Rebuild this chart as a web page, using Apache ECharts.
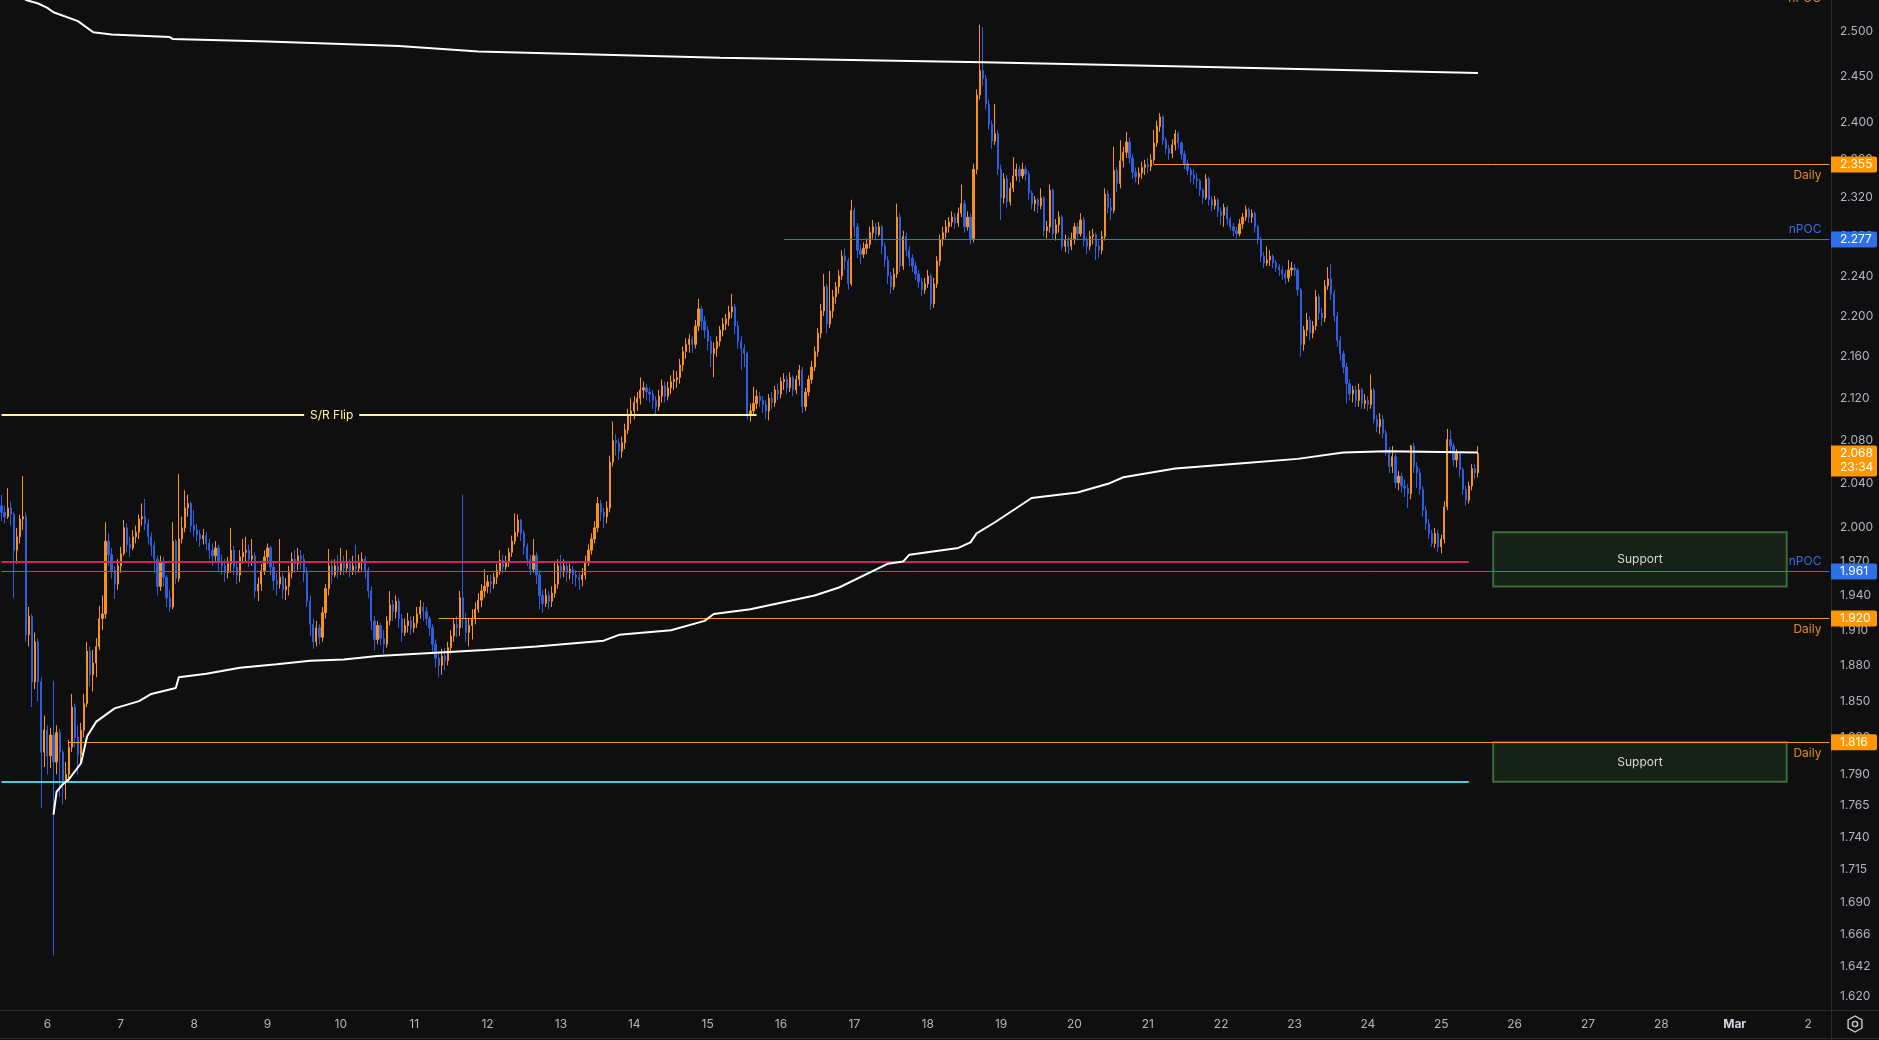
<!DOCTYPE html>
<html><head><meta charset="utf-8">
<script src="https://cdn.jsdelivr.net/npm/echarts@6/dist/echarts.min.js"></script>
<style>html,body{margin:0;padding:0;background:#0f0f0f;overflow:hidden}#main{width:1879px;height:1040px}</style>
</head><body><div id="main"></div>
<script>
// ---------- data (prices in thousandths for compactness) ----------
const dayLabels = ['6','7','8','9','10','11','12','13','14','15','16','17','18','19','20','21','22','23','24','25','26','27','28','Mar','2'];
const yTicks = [2.500,2.450,2.400,2.360,2.320,2.280,2.240,2.200,2.160,2.120,2.080,2.040,2.000,1.970,1.940,1.910,1.880,1.850,1.820,1.790,1.765,1.740,1.715,1.690,1.666,1.642,1.620];
const firstOpen = 2020;
const closes = [
2014,2010,2018,2012,1980,1992,2008,2010,1906,1922,1866,1900,
1866,1808,1826,1805,1822,1800,1824,1808,1785,1790,1812,1845,
1820,1806,1826,1848,1892,1872,1882,1896,1920,1924,1988,1976,
1962,1950,1966,1977,2000,1985,1982,1992,1996,2008,2010,2004,
1992,1984,1972,1948,1970,1956,1938,1930,1988,1955,1990,2000,
2018,2022,2002,1998,1994,1990,1993,1986,1980,1975,1982,1970,
1966,1960,1968,1980,1965,1958,1974,1978,1980,1972,1975,1944,
1950,1962,1974,1982,1965,1953,1950,1956,1945,1948,1960,1972,
1968,1975,1972,1960,1935,1915,1900,1912,1904,1925,1946,1966,
1958,1966,1962,1968,1964,1968,1962,1966,1964,1969,1972,1962,
1944,1918,1902,1914,1903,1898,1918,1932,1926,1935,1920,1908,
1914,1918,1912,1916,1924,1930,1926,1920,1912,1898,1886,1880,
1888,1884,1895,1905,1915,1912,1938,1920,1908,1914,1920,1928,
1936,1944,1948,1952,1950,1956,1962,1971,1965,1970,1978,1988,
1996,2007,1995,1983,1972,1963,1975,1958,1940,1933,1940,1935,
1942,1950,1966,1962,1966,1960,1963,1958,1956,1954,1958,1970,
1980,1990,2000,2022,2014,2010,2018,2060,2080,2078,2070,2078,
2090,2104,2108,2116,2120,2128,2130,2126,2124,2118,2112,2122,
2132,2122,2130,2136,2138,2140,2152,2165,2172,2177,2172,2190,
2207,2195,2186,2175,2163,2168,2175,2186,2192,2197,2204,2209,
2190,2175,2168,2163,2105,2108,2115,2122,2118,2114,2108,2120,
2116,2128,2124,2136,2138,2130,2140,2128,2138,2147,2112,2126,
2138,2150,2165,2183,2205,2229,2192,2205,2219,2229,2240,2260,
2255,2232,2307,2290,2266,2262,2268,2272,2284,2290,2282,2290,
2270,2256,2240,2229,2242,2300,2250,2280,2266,2258,2250,2242,
2234,2226,2232,2240,2212,2232,2255,2277,2284,2290,2295,2300,
2294,2304,2314,2290,2300,2278,2350,2430,2457,2448,2420,2398,
2380,2388,2350,2320,2340,2316,2330,2343,2350,2343,2350,2345,
2325,2314,2318,2312,2320,2286,2290,2328,2283,2292,2300,2270,
2276,2270,2278,2290,2283,2297,2276,2270,2280,2282,2270,2266,
2280,2324,2310,2307,2349,2335,2359,2368,2379,2362,2347,2342,
2346,2352,2355,2353,2360,2378,2396,2406,2381,2372,2367,2376,
2388,2378,2366,2356,2349,2344,2340,2338,2328,2320,2340,2318,
2312,2318,2306,2302,2310,2298,2290,2286,2283,2293,2300,2308,
2300,2304,2290,2277,2260,2253,2256,2260,2253,2249,2246,2242,
2238,2246,2248,2246,2226,2172,2186,2196,2183,2190,2219,2203,
2198,2230,2237,2222,2200,2176,2163,2150,2134,2124,2128,2118,
2128,2115,2118,2114,2128,2100,2093,2100,2087,2071,2056,2065,
2041,2047,2038,2036,2031,2075,2056,2050,2035,2016,2004,1995,
1986,1995,1983,1990,2019,2081,2075,2062,2068,2053,2035,2025,
2038,2054,2050,2068];
const highs = [
2030,2020,2036,2024,2014,2000,2012,2047,2014,1930,1924,1908,
1903,1870,1838,1830,1828,1867,1830,1827,1810,1800,1818,1856,
1848,1830,1832,1856,1900,1896,1893,1903,1931,1940,2005,1995,
1982,1966,1972,1983,2007,2004,1992,1998,2002,2012,2022,2026,
2008,1996,1988,1975,1975,1974,1958,1945,2005,1990,2049,2010,
2034,2030,2024,2016,2004,1998,1999,1996,1990,1986,1988,1985,
1976,1972,1974,2000,1984,1970,1980,1990,1992,1985,1990,1978,
1956,1968,1980,1986,1984,1970,1960,1990,1960,1955,1966,1978,
1980,1982,1980,1976,1965,1940,1920,1918,1915,1930,1950,1981,
1972,1972,1976,1982,1975,1980,1972,1975,1985,1976,1978,1975,
1965,1948,1922,1918,1916,1910,1922,1944,1936,1940,1938,1924,
1920,1925,1922,1922,1930,1936,1934,1930,1922,1915,1902,1890,
1894,1895,1900,1910,1920,1922,1944,2030,1925,1920,1928,1934,
1942,1950,1963,1958,1958,1960,1968,1980,1976,1975,1982,1993,
2013,2012,2008,1998,1986,1976,1990,1978,1962,1945,1946,1944,
1948,1970,1972,1976,1972,1970,1968,1966,1962,1960,1964,1975,
1985,1995,2006,2028,2025,2018,2024,2066,2098,2086,2082,2084,
2096,2110,2120,2122,2126,2140,2136,2134,2130,2128,2122,2128,
2138,2136,2136,2142,2147,2146,2158,2170,2178,2182,2180,2196,
2217,2210,2200,2190,2180,2174,2180,2190,2198,2202,2210,2222,
2212,2195,2180,2172,2165,2115,2131,2128,2126,2122,2118,2124,
2126,2132,2134,2140,2144,2142,2145,2142,2142,2152,2150,2130,
2142,2156,2170,2188,2212,2242,2232,2245,2226,2234,2246,2266,
2268,2258,2318,2310,2294,2272,2274,2278,2290,2297,2294,2295,
2292,2274,2260,2244,2248,2314,2304,2286,2284,2270,2262,2254,
2246,2238,2238,2246,2242,2238,2260,2282,2290,2297,2300,2306,
2304,2310,2334,2318,2306,2304,2356,2436,2508,2505,2452,2425,
2402,2420,2392,2355,2346,2344,2336,2363,2356,2354,2357,2354,
2348,2328,2322,2320,2330,2322,2296,2334,2330,2298,2306,2302,
2282,2280,2284,2294,2294,2304,2300,2280,2286,2288,2284,2276,
2286,2330,2328,2320,2374,2352,2381,2374,2390,2384,2366,2352,
2352,2358,2360,2362,2366,2392,2402,2410,2408,2384,2376,2382,
2392,2390,2380,2370,2360,2352,2350,2346,2340,2330,2345,2342,
2322,2322,2320,2310,2314,2312,2300,2294,2290,2298,2304,2312,
2310,2308,2306,2292,2280,2264,2270,2266,2262,2256,2252,2250,
2246,2256,2254,2252,2248,2228,2190,2203,2200,2195,2226,2222,
2208,2236,2249,2252,2226,2204,2180,2166,2154,2138,2132,2132,
2134,2130,2124,2122,2143,2130,2104,2106,2104,2090,2074,2075,
2068,2052,2050,2044,2040,2076,2078,2060,2054,2038,2020,2008,
1998,2000,1998,1994,2024,2091,2090,2078,2072,2070,2055,2038,
2042,2058,2058,2075];
const lows = [
2006,2004,2008,2002,1938,1968,1986,1998,1900,1896,1845,1860,
1850,1763,1796,1790,1795,1650,1790,1772,1766,1770,1785,1808,
1812,1790,1798,1820,1845,1862,1858,1870,1893,1910,1920,1966,
1955,1937,1945,1960,1975,1978,1974,1980,1986,1990,2002,1998,
1985,1975,1960,1940,1944,1948,1930,1926,1928,1950,1952,1986,
1996,2010,1996,1992,1988,1983,1985,1980,1972,1966,1970,1962,
1958,1952,1955,1960,1958,1950,1952,1968,1970,1965,1966,1938,
1935,1944,1958,1968,1958,1945,1940,1946,1937,1936,1940,1955,
1960,1962,1963,1952,1930,1905,1894,1896,1898,1900,1920,1940,
1950,1956,1955,1958,1958,1960,1956,1958,1958,1960,1962,1955,
1938,1910,1893,1898,1897,1890,1895,1914,1918,1920,1912,1900,
1905,1908,1906,1908,1912,1920,1918,1914,1905,1890,1878,1870,
1872,1876,1880,1890,1900,1904,1905,1912,1900,1896,1902,1915,
1925,1930,1938,1942,1942,1946,1950,1958,1960,1962,1965,1974,
1985,1992,1988,1976,1966,1958,1960,1950,1928,1925,1930,1928,
1930,1938,1946,1955,1956,1952,1954,1950,1948,1945,1948,1954,
1966,1976,1986,1996,2006,2000,2004,2014,2056,2066,2062,2064,
2072,2086,2096,2100,2108,2114,2120,2118,2116,2110,2104,2108,
2116,2116,2118,2124,2128,2130,2134,2146,2158,2164,2164,2168,
2185,2186,2178,2166,2150,2140,2160,2170,2180,2186,2190,2198,
2182,2168,2147,2150,2100,2098,2104,2110,2112,2106,2100,2099,
2110,2112,2118,2120,2128,2124,2126,2122,2124,2132,2106,2108,
2122,2134,2146,2160,2178,2200,2183,2188,2198,2212,2222,2236,
2246,2226,2230,2280,2258,2252,2258,2262,2268,2278,2276,2280,
2262,2249,2232,2222,2226,2238,2244,2246,2260,2250,2244,2236,
2228,2220,2222,2228,2206,2208,2228,2250,2270,2278,2284,2290,
2288,2290,2300,2284,2286,2272,2274,2345,2425,2440,2414,2392,
2372,2376,2344,2297,2314,2310,2312,2326,2338,2336,2340,2338,
2318,2308,2306,2304,2308,2280,2278,2284,2278,2276,2284,2266,
2264,2262,2266,2272,2276,2280,2270,2262,2266,2272,2256,2258,
2262,2276,2304,2297,2304,2326,2330,2352,2362,2356,2340,2336,
2334,2340,2344,2346,2348,2356,2374,2390,2376,2366,2360,2362,
2370,2372,2360,2350,2344,2336,2334,2330,2322,2314,2318,2312,
2306,2308,2300,2292,2290,2292,2286,2280,2278,2280,2288,2296,
2294,2294,2284,2272,2254,2248,2250,2250,2248,2244,2240,2236,
2232,2234,2240,2240,2220,2160,2166,2180,2176,2178,2186,2196,
2190,2194,2226,2216,2194,2170,2156,2144,2115,2118,2116,2112,
2112,2110,2110,2108,2110,2096,2088,2086,2082,2066,2050,2050,
2036,2034,2032,2028,2018,2026,2050,2036,2030,2010,1998,1990,
1983,1982,1978,1977,1986,2016,2068,2056,2055,2046,2030,2020,
2022,2034,2044,2046];
// session VWAP (upper white line) and anchored VWAP (lower white line): [hour index, price]
const upperVwap = [[0,2.560],[8,2.536],[12,2.532],[15,2.527],[17,2.522],[25,2.512],[30,2.4995],[36,2.497],[55,2.494],[56,2.492],[87,2.489],[104,2.487],[130,2.484],[156,2.478],[235,2.471],[321,2.466],[391,2.461],[483,2.454]];
const anchoredVwap = [[17,1.758],[18,1.776],[20,1.782],[22,1.786],[26,1.799],[28,1.821],[31,1.833],[37,1.844],[45,1.850],[49,1.856],[57,1.861],[58,1.870],[67,1.873],[78,1.878],[90,1.881],[101,1.884],[112,1.885],[123,1.888],[158,1.893],[175,1.896],[197,1.901],[202,1.906],[219,1.910],[230,1.918],[233,1.924],[245,1.928],[266,1.940],[274,1.947],[290,1.968],[295,1.970],[297,1.976],[313,1.982],[317,1.987],[319,1.995],[325,2.005],[337,2.027],[352,2.032],[362,2.040],[367,2.046],[384,2.054],[406,2.059],[424,2.063],[439,2.069],[453,2.070],[483,2.069]];
// horizontal levels
const dailyLevels = [2.355, 1.920, 1.816];
const dailyStarts = [377, 143, 22];
const npocLevels = [2.277, 1.961];
const npocStarts = [256, 0];
const srFlipLevel = 2.104;
const srFlipSpan = [0, 247];
const pinkLevel = 1.970;
const cyanLevel = 1.784;
const rayEnd = 480;
const supportZones = [[1.996, 1.948], [1.816, 1.784]];
const supportSpan = [488, 584];
const lastPrice = 2.068;
const countdown = '23:34';

// ---------- build ----------
const totalSlots = 599;
const startMs = Date.UTC(2025, 1, 5, 9);
const firstDayIdx = (Date.UTC(2025, 1, 6) - startMs) / 3600000;
const categories = Array.from({length: totalSlots}, (_, k) => new Date(startMs + k * 3600000).toISOString().slice(0, 13) + ':00');
const candles = closes.map((c, i) => {
  const o = i ? closes[i - 1] : firstOpen;
  const h = Math.max(highs[i], o, c), l = Math.min(lows[i], o, c);
  return [o / 1000, c / 1000, l / 1000, h / 1000];
});

const ORANGE = '#f7931a', BLUE = '#2d5fe0';
const TAG_OR = '#ff9800', TAG_BL = '#2f6fe8';
const FONT = 'Inter, Roboto, sans-serif';
const last = totalSlots - 1;

function seg(x0, x1, v, color, width, label) {
  return [{coord: [x0, v], lineStyle: {color: color, width: width, type: 'solid'}, label: label || {show: false}}, {coord: [x1, v]}];
}
const lines = [];
lines.push(seg(srFlipSpan[0], 99, srFlipLevel, '#fff59d', 2));
lines.push(seg(117, srFlipSpan[1], srFlipLevel, '#fff59d', 2));
lines.push(seg(0, rayEnd, pinkLevel, '#d0245f', 2));
lines.push(seg(0, rayEnd, cyanLevel, '#4fc8da', 2));
dailyLevels.forEach((v, k) => lines.push(seg(dailyStarts[k], last, v, '#f39a2b', 1,
  {show: true, position: 'insideEndBottom', formatter: 'Daily', color: '#e08b25', fontSize: 12, fontFamily: FONT, distance: [8, 5]})));
npocLevels.forEach((v, k) => lines.push(seg(npocStarts[k], last, v, '#3a6fe0', 1,
  {show: true, position: 'insideEndTop', formatter: 'nPOC', color: '#3a6fe0', fontSize: 12, fontFamily: FONT, distance: [8, 4]})));

const areas = supportZones.map(z => [
  {coord: [supportSpan[0], z[0]], itemStyle: {color: 'rgba(60,130,60,0.17)', borderColor: '#3c6a38', borderWidth: 2},
   label: {show: true, position: 'inside', formatter: 'Support', color: '#d6d8dc', fontSize: 12, fontFamily: FONT}},
  {coord: [supportSpan[1], z[1]]}
]);

const chart = echarts.init(document.getElementById('main'), null, {renderer: 'canvas'});
const option = {
  backgroundColor: '#0f0f0f',
  animation: false,
  grid: {left: 0, right: 48, top: 0, bottom: 30},
  xAxis: {
    type: 'category', data: categories, boundaryGap: true,
    axisLine: {show: false}, axisTick: {show: false}, splitLine: {show: false},
    axisLabel: {
      interval: (idx) => idx >= firstDayIdx && (idx - firstDayIdx) % 24 === 0,
      formatter: (val, idx) => { const t = dayLabels[(idx - firstDayIdx) / 24]; return t === 'Mar' ? '{b|Mar}' : t; },
      color: '#b2b5be', fontSize: 12, fontFamily: FONT, margin: 8,
      rich: {b: {fontWeight: 'bold', color: '#d1d4dc', fontSize: 12, fontFamily: FONT}}
    }
  },
  yAxis: {
    type: 'log', logBase: 10, min: 1.610, max: 2.536, position: 'right',
    axisLine: {show: false}, axisTick: {show: false}, splitLine: {show: false},
    axisLabel: {customValues: yTicks, formatter: v => Number(v).toFixed(3), color: '#b2b5be', fontSize: 12, fontFamily: FONT, margin: 9}
  },
  series: [
    {
      type: 'candlestick', name: 'price', data: candles, z: 3, barWidth: 1.7,
      itemStyle: {color: ORANGE, color0: BLUE, borderColor: ORANGE, borderColor0: BLUE, borderWidth: 1}
    },
    {
      type: 'line', name: 'levels', data: [], z: 4, silent: true,
      markLine: {symbol: ['none', 'none'], silent: true, animation: false, data: lines},
      markArea: {silent: true, data: areas},
      markPoint: {silent: true, data: [{coord: [108, srFlipLevel], symbol: 'rect', symbolSize: 0,
        label: {show: true, position: 'inside', formatter: 'S/R Flip', color: '#fff59d', fontSize: 12, fontFamily: FONT}}]}
    },
    {type: 'line', name: 'vwap', data: upperVwap, showSymbol: false, z: 5, silent: true, lineStyle: {color: '#ffffff', width: 2}},
    {type: 'line', name: 'avwap', data: anchoredVwap, showSymbol: false, z: 5, silent: true, lineStyle: {color: '#ffffff', width: 2}}
  ]
};
chart.setOption(option);

// ---------- price-axis tags & frame ----------
const yPix = v => chart.convertToPixel({yAxisIndex: 0}, v);
const axisX = 1831;
const g = [];
function tag(v, fill, extra) {
  const y = yPix(v);
  const h = extra ? 31 : 16;
  g.push({type: 'rect', z: 100, shape: {x: axisX, y: y - 8, width: 46, height: h, r: [0, 2, 2, 0]}, style: {fill: fill}});
  g.push({type: 'text', z: 101, style: {text: v.toFixed(3), x: axisX + 9, y: y, fill: '#ffffff', font: '12px ' + FONT, verticalAlign: 'middle', align: 'left'}});
  if (extra) g.push({type: 'text', z: 101, style: {text: extra, x: axisX + 9, y: y + 14, fill: '#ffffff', font: '12px ' + FONT, verticalAlign: 'middle', align: 'left'}});
}
dailyLevels.forEach(v => tag(v, TAG_OR));
npocLevels.forEach(v => tag(v, TAG_BL));
tag(lastPrice, TAG_OR, countdown);
g.push({type: 'text', z: 50, style: {text: 'nPOC', x: 1821, y: -2, fill: '#d08a3a', font: '12px ' + FONT, verticalAlign: 'middle', align: 'right'}});
g.push({type: 'line', z: 60, shape: {x1: 0, y1: 1010.5, x2: 1879, y2: 1010.5}, style: {stroke: '#2b2b2b', lineWidth: 1}});
g.push({type: 'line', z: 60, shape: {x1: 0, y1: 1038.5, x2: 1879, y2: 1038.5}, style: {stroke: '#2b2b2b', lineWidth: 1}});
g.push({type: 'line', z: 60, shape: {x1: axisX + 0.5, y1: 0, x2: axisX + 0.5, y2: 1040}, style: {stroke: '#2b2b2b', lineWidth: 1}});
const hex = [];
for (let k = 0; k < 6; k++) { const a = Math.PI / 6 + k * Math.PI / 3; hex.push([1855 + 8 * Math.cos(a), 1024 + 8 * Math.sin(a)]); }
g.push({type: 'polygon', z: 60, shape: {points: hex}, style: {fill: 'none', stroke: '#c8cad0', lineWidth: 1.4}});
g.push({type: 'circle', z: 60, shape: {cx: 1855, cy: 1024, r: 2.6}, style: {fill: 'none', stroke: '#c8cad0', lineWidth: 1.4}});
chart.setOption({graphic: g});
</script>
</body></html>
